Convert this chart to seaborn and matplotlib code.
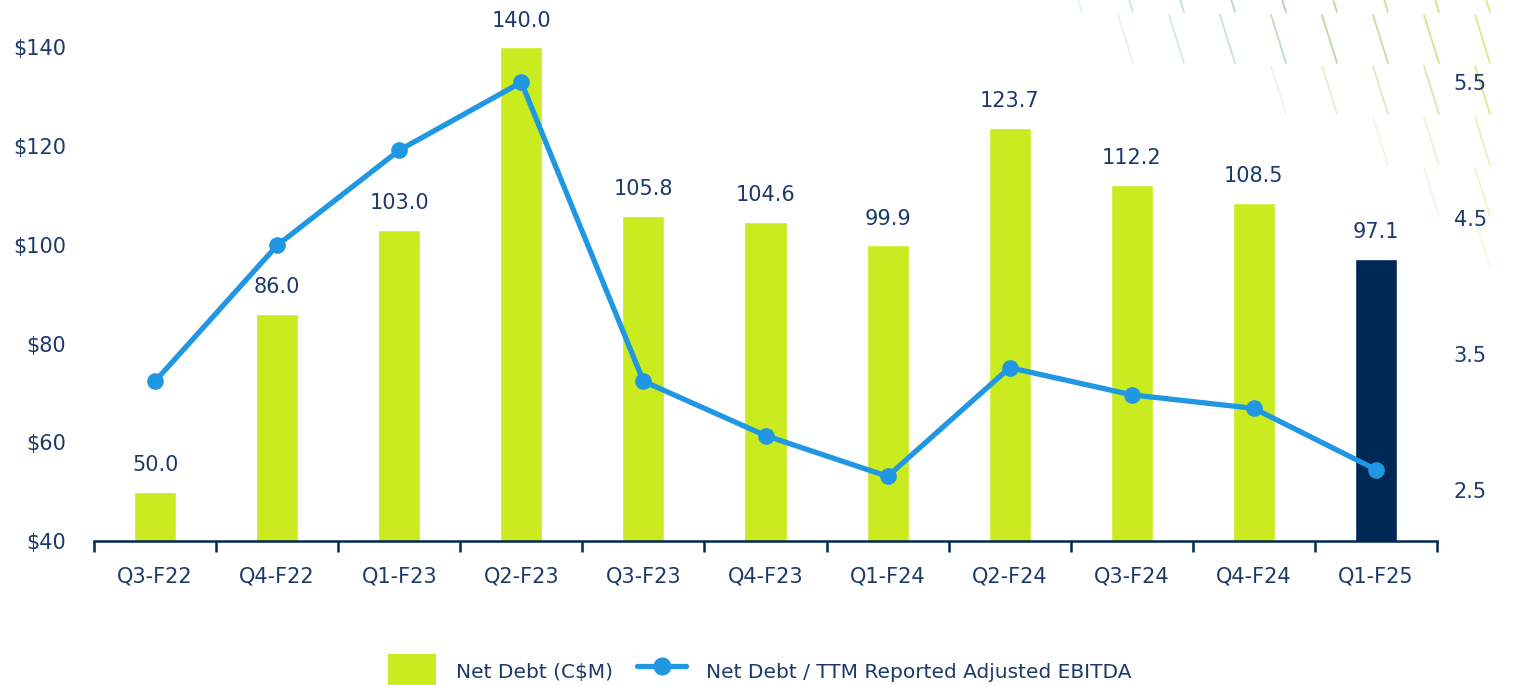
import numpy as np
import matplotlib
matplotlib.use("Agg")
import matplotlib.pyplot as plt
import seaborn as sns
from matplotlib.patches import Patch
from matplotlib.lines import Line2D

# Data
quarters = ["Q3-F22", "Q4-F22", "Q1-F23", "Q2-F23", "Q3-F23", "Q4-F23",
            "Q1-F24", "Q2-F24", "Q3-F24", "Q4-F24", "Q1-F25"]
net_debt = [50.0, 86.0, 103.0, 140.0, 105.8, 104.6, 99.9, 123.7, 112.2, 108.5, 97.1]
leverage = [3.3, 4.3, 5.0, 5.5, 3.3, 2.9, 2.6, 3.4, 3.2, 3.1, 2.65]
left_ticks = [40, 60, 80, 100, 120, 140]
right_ticks = [2.5, 3.5, 4.5, 5.5]

LIME = "#C9EB1F"
NAVY_BAR = "#002855"
BLUE = "#1F97E2"
TEXT = "#1B3A6B"

sns.set_theme(style="white")
plt.rcParams["font.family"] = ["DejaVu Sans"]

fig = plt.figure(figsize=(15.19, 6.85), dpi=100)
ax = fig.add_axes([0.0619, 0.2102, 0.8841, 0.7208])
ax.set_facecolor("none")

# decorative dash pattern, top right (first visible column per row)
first_col = [0, 1, 4, 6, 7, 8]
dash_cols = sns.blend_palette(["#4FAFB0", "#C4E35A"], 9)
for row in range(6):
    for col in range(first_col[row], 9):
        x0 = 1067 + 51 * col
        y0 = -36 + 51 * row
        a = min(0.7, 0.18 + 0.13 * (col - first_col[row]))
        fig.add_artist(Line2D([x0 / 1519, (x0 + 15) / 1519],
                              [1 - y0 / 685, 1 - (y0 + 48) / 685],
                              color=dash_cols[col], lw=1.3, alpha=a, zorder=-1))

# bars
bar_colors = [LIME] * (len(quarters) - 1) + [NAVY_BAR]
sns.barplot(x=quarters, y=net_debt, hue=quarters, palette=bar_colors,
            width=0.345, legend=False, saturation=1, ax=ax, zorder=2)
ax.set_ylim(40, 140)
ax.set_xlim(-0.5, len(quarters) - 0.5)
ax.set_yticks(left_ticks)
ax.set_yticklabels([f"${v}" for v in left_ticks])

for i, v in enumerate(net_debt):
    ax.annotate(f"{v:.1f}", (i, v), xytext=(0, 12), textcoords="offset points",
                ha="center", va="bottom", fontsize=15, color=TEXT,
                annotation_clip=False)

# line on secondary axis
ax2 = ax.twinx()
ax2.set_facecolor("none")
sns.lineplot(x=np.arange(len(quarters)), y=leverage, ax=ax2, color=BLUE,
             lw=3.8, marker="o", markersize=12, markeredgewidth=0, zorder=3)
ax2.set_ylim(2.124, 5.758)
ax2.set_yticks(right_ticks)
ax2.set_yticklabels([f"{v}" for v in right_ticks])

# axes styling
for a in (ax, ax2):
    for sp in a.spines.values():
        sp.set_visible(False)
ax.spines["bottom"].set_visible(True)
ax.spines["bottom"].set_color(NAVY_BAR)
ax.spines["bottom"].set_linewidth(1.8)

ax.set_xticks(np.arange(len(quarters)))
ax.set_xticklabels(quarters)
ax.set_xticks(np.arange(-0.5, len(quarters)), minor=True)
ax.tick_params(axis="x", which="major", bottom=True, length=0, pad=18,
               labelsize=15, labelcolor=TEXT)
ax.tick_params(axis="x", which="minor", bottom=True, length=8, width=1.8,
               color=NAVY_BAR, direction="out")
ax.tick_params(axis="y", length=0, pad=20, labelsize=15, labelcolor=TEXT)
ax2.tick_params(axis="y", length=0, pad=12, labelsize=15, labelcolor=TEXT)
ax.set_xlabel("")
ax.set_ylabel("")
ax2.set_ylabel("")
ax.grid(False)
ax2.grid(False)

# legend
handles = [Patch(facecolor=LIME, edgecolor="none", label="Net Debt (C$M)"),
           Line2D([0], [0], color=BLUE, lw=3.8, marker="o", markersize=12,
                  label="Net Debt / TTM Reported Adjusted EBITDA")]
fig.legend(handles=handles, loc="center", bbox_to_anchor=(0.5, 0.019), ncol=2,
           frameon=False, fontsize=14.5, labelcolor=TEXT, handlelength=2.4,
           handleheight=2.4, handletextpad=1.0, columnspacing=1.2)

fig.savefig("out.png", dpi=100)
